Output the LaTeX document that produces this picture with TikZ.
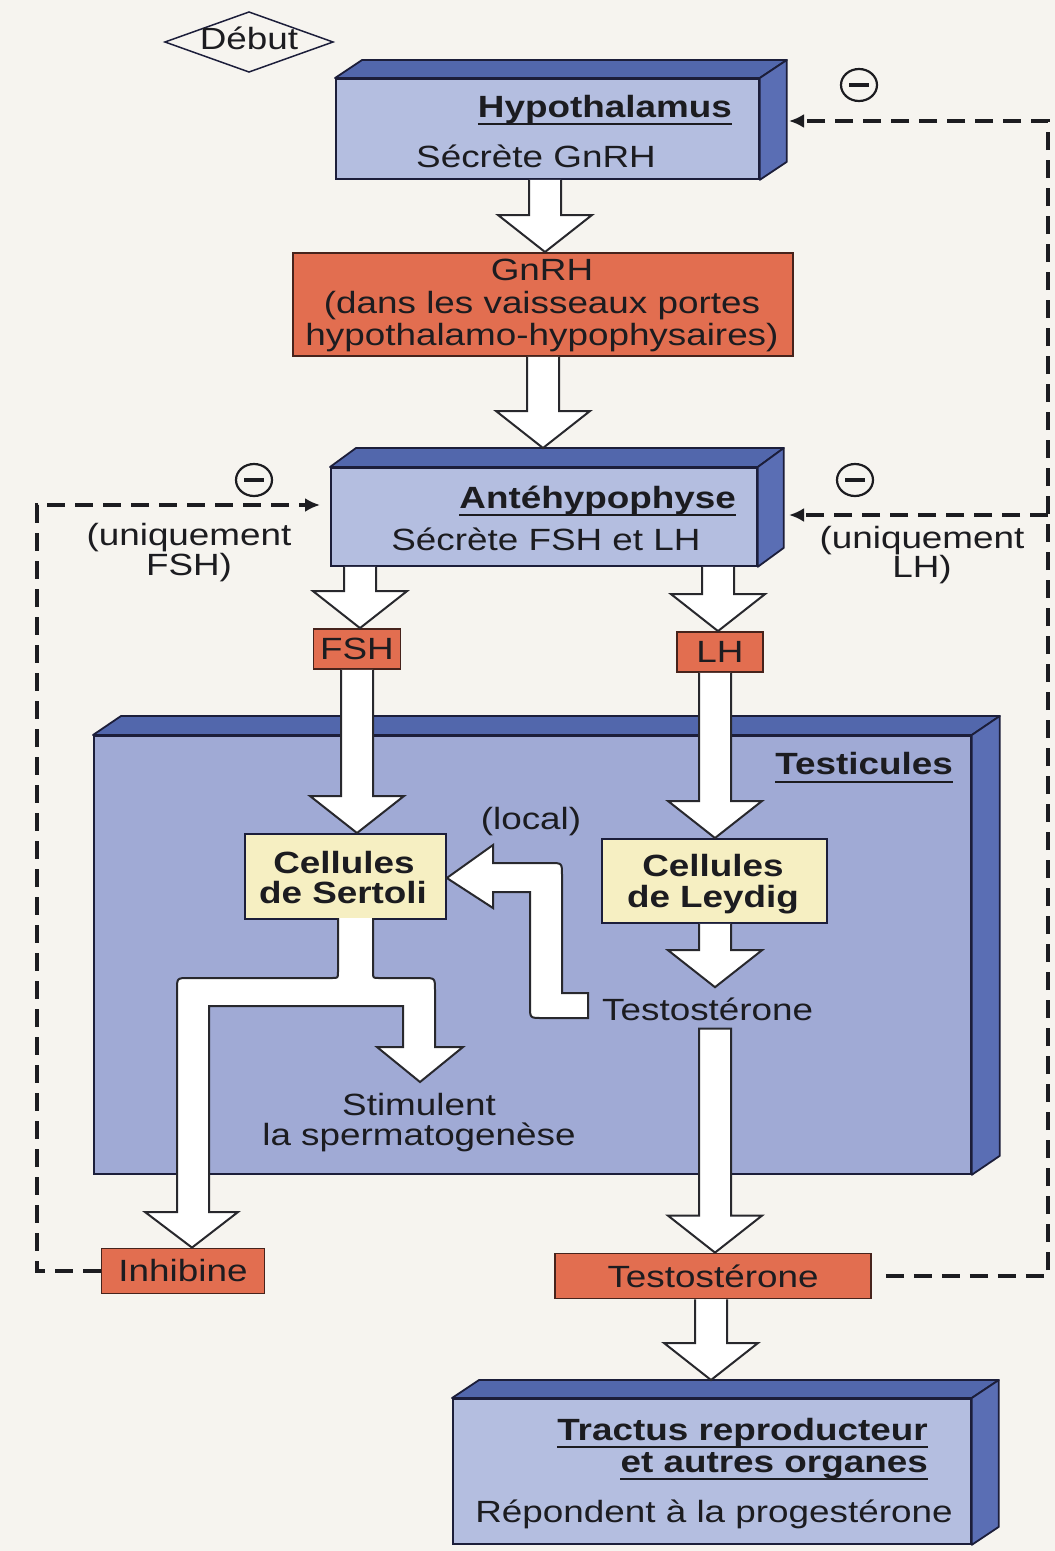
\documentclass[tikz,border=0pt]{standalone}
\usepackage{fontspec}
\setmainfont{Liberation Sans}[FakeStretch=1.2]
\usetikzlibrary{arrows.meta,calc,shapes.geometric}
\definecolor{bgc}{RGB}{246,244,239}
\definecolor{frontblue}{RGB}{180,190,224}
\definecolor{testblue}{RGB}{160,170,213}
\definecolor{topblue}{RGB}{82,103,172}
\definecolor{sideblue}{RGB}{90,110,180}
\definecolor{edgec}{RGB}{28,30,58}
\definecolor{orangec}{RGB}{226,110,80}
\definecolor{orangeedge}{RGB}{70,35,28}
\definecolor{yellowc}{RGB}{246,239,194}
\definecolor{ink}{RGB}{28,28,32}
\definecolor{arrowedge}{RGB}{40,40,45}
\newcommand\blockarrow[4][]{%
  \path[barrow] let \p1=(#3), \p2=(#4) in
   ({#2pt-16pt},\y1) -- ({#2pt-16pt},{\y2+37pt}) -- ({#2pt-47pt},{\y2+37pt}) -- (#2pt,\y2) -- ({#2pt+47pt},{\y2+37pt}) -- ({#2pt+16pt},{\y2+37pt}) -- ({#2pt+16pt},\y1) #1;}
\newcommand\boxfaces[3]{%
  \filldraw[face, fill=topblue] (#1.north west) -- ++(#2,-#3) -- ([shift={(#2,-#3)}]#1.north east) -- (#1.north east) -- cycle;
  \filldraw[face, fill=sideblue] (#1.north east) -- ++(#2,-#3) -- ([shift={(#2,-#3)}]#1.south east) -- (#1.south east) -- cycle;}
\begin{document}
\begin{tikzpicture}[x=1pt,y=-1pt,
  txt/.style={font=\fontsize{30.7}{32}\selectfont, text=ink, inner sep=0pt},
  btxt/.style={font=\fontsize{30.7}{32}\selectfont\bfseries, text=ink, inner sep=0pt},
  front/.style={draw=edgec, line width=1.8pt, fill=frontblue, inner sep=0pt, anchor=north west},
  face/.style={draw=edgec, line width=1.8pt, line join=round},
  orangebox/.style={draw=orangeedge, line width=1.8pt, fill=orangec, inner sep=0pt, font=\fontsize{30.7}{32}\selectfont, text=ink},
  yellowbox/.style={draw=edgec, line width=1.8pt, fill=yellowc, inner sep=0pt, anchor=north west},
  barrow/.style={draw=arrowedge, fill=white, line width=2pt, line join=miter},
  uline/.style={draw=ink, line width=2.5pt},
  fb/.style={draw=ink, line width=4.5pt, dash pattern=on 18pt off 10pt, -{Latex[length=15pt,width=14pt]}},
  minus/.style={ellipse, draw=ink, line width=2.2pt, minimum width=36pt, minimum height=32pt, inner sep=0pt,
    path picture={\draw[line width=4pt, ink] ([xshift=-10pt]path picture bounding box.center) -- ([xshift=10pt]path picture bounding box.center);}}
]
\useasboundingbox (0,0) rectangle (1055,1551);
\fill[bgc] (0,0) rectangle (1055,1551);

% Debut
\coordinate (dc) at (249,42);
\draw[line width=1.5pt, edgec] ($(dc)+(-84,0)$) -- ($(dc)+(0,-30)$) -- ($(dc)+(84,0)$) -- ($(dc)+(0,30)$) -- cycle;
\node[txt, anchor=base] (debut) at (249,49) {Début};

% Hypothalamus
\node[front, minimum width=423pt, minimum height=100pt] (hyp) at (335,78) {};
\boxfaces{hyp}{27}{18}
\node[btxt, anchor=base east] (hypt) at (732,117) {Hypothalamus};
\draw[uline] ([yshift=-7pt]hypt.base west) -- ([yshift=-7pt]hypt.base east);
\node[txt, anchor=base] (hyps) at (536,167) {Sécrète GnRH};

% GnRH
\node[orangebox, minimum width=500pt, minimum height=103pt, anchor=north west] (gnrh) at (292,252) {};
\node[txt, anchor=base] (g1) at (542,280) {GnRH};
\node[txt, anchor=base] (g2) at (542,313) {(dans les vaisseaux portes};
\node[txt, anchor=base] (g3) at (542,345) {hypothalamo-hypophysaires)};

% Antehypophyse
\node[front, minimum width=426pt, minimum height=98pt] (ante) at (330,467) {};
\boxfaces{ante}{26}{19}
\coordinate (antetop) at (543,448);
\node[btxt, anchor=base east] (antet) at (736,508) {Antéhypophyse};
\draw[uline] ([yshift=-7pt]antet.base west) -- ([yshift=-7pt]antet.base east);
\node[txt, anchor=base] (antes) at (546,550) {Sécrète FSH et LH};

% FSH / LH
\node[orangebox, minimum width=87pt, minimum height=40pt] (fsh) at (357,649) {FSH};
\node[orangebox, minimum width=86pt, minimum height=40pt] (lh) at (720,652) {LH};

% Testicules
\node[front, fill=testblue, minimum width=877pt, minimum height=438pt] (testi) at (93,735) {};
\boxfaces{testi}{28}{19}
\node[btxt, anchor=base east] (testit) at (953,774) {Testicules};
\draw[uline] ([yshift=-8pt]testit.base west) -- ([yshift=-8pt]testit.base east);

% Sertoli / Leydig
\node[yellowbox, minimum width=201pt, minimum height=85pt] (sert) at (244,833) {};
\node[btxt, anchor=base] (s1) at (344,873) {Cellules};
\node[btxt, anchor=base] (s2) at (343,903) {de Sertoli};
\node[yellowbox, minimum width=225pt, minimum height=84pt] (leyd) at (601,838) {};
\node[btxt, anchor=base] (l1) at (713,876) {Cellules};
\node[btxt, anchor=base] (l2) at (713,907) {de Leydig};

\node[txt, anchor=base] (local) at (531,829) {(local)};
\node[txt, anchor=base west] (testin) at (602,1020) {Testostérone};
\node[txt, anchor=base] (stim1) at (419,1115) {Stimulent};
\node[txt, anchor=base] (stim2) at (419,1145) {la spermatogenèse};

% bottom hormone boxes
\node[orangebox, minimum width=163pt, minimum height=45pt] (inhib) at (183,1271) {Inhibine};
\node[orangebox, minimum width=316pt, minimum height=45pt] (testo) at (713,1276) {Testostérone};

% Tractus
\node[front, minimum width=518pt, minimum height=145pt] (tract) at (452,1398) {};
\boxfaces{tract}{27}{18}
\coordinate (tractop) at (711,1380);
\node[btxt, anchor=base east] (tr1) at (928,1440) {Tractus reproducteur};
\draw[uline] ([yshift=-7pt]tr1.base west) -- ([yshift=-7pt]tr1.base east);
\node[btxt, anchor=base east] (tr2) at (928,1472) {et autres organes};
\draw[uline] ([yshift=-7pt]tr2.base west) -- ([yshift=-7pt]tr2.base east);
\node[txt, anchor=base] (tr3) at (714,1522) {Répondent à la progestérone};

% block arrows
\blockarrow{545}{hyp.south}{gnrh.north}
\blockarrow{543}{gnrh.south}{antetop}
\blockarrow{360}{ante.south}{fsh.north}
\blockarrow{718}{ante.south}{lh.north}
\blockarrow{357}{fsh.south}{sert.north}
\blockarrow{715}{lh.south}{leyd.north}
\blockarrow{715}{leyd.south}{[yshift=10pt]testin.north}
\blockarrow[-- cycle]{715}{[yshift=-8pt]testin.south}{testo.north}
\blockarrow{711}{testo.south}{tractop}

% local arrow (testosterone -> Sertoli)
\path[barrow] (588,993) -- (562,993) -- (562,875) .. controls (562,863) .. (550,863) -- (493,863) -- (493,845) -- (sert.east |- 0,878) -- (493,908) -- (493,892) -- (530,892) -- (530,1006) .. controls (530,1018) .. (542,1018) -- (588,1018) -- cycle;

% Sertoli branching arrow
\path[barrow] (338,918) -- (338,972) .. controls (338,978) .. (332,978) -- (189,978) .. controls (177,978) .. (177,990) -- (177,1212) -- (145,1212) -- (inhib.north -| 192,0) -- (238,1212) -- (209,1212) -- (209,1006) -- (403,1006) -- (403,1047) -- (377,1047) -- (420,1082) -- (463,1047) -- (435,1047) -- (435,990) .. controls (435,978) .. (423,978) -- (379,978) .. controls (373,978) .. (373,972) -- (373,918);

% feedback
\coordinate (hypr) at (789,121);
\coordinate (anter) at (789,515);
\coordinate (antel) at (320,505);
\coordinate (rline) at (1048,515);
\draw[fb, shorten <=14pt] (testo.east) -| (1048,121) -- (hypr);
\draw[fb] (rline) -- (anter);
\draw[fb] (inhib.west) -| (37,505) -- (antel);

\node[minus] (m1) at (859,85) {};
\node[minus] (m2) at (254,480) {};
\node[minus] (m3) at (855,480) {};

\node[txt, anchor=base] (uf1) at (189,545) {(uniquement};
\node[txt, anchor=base] (uf2) at (189,575) {FSH)};
\node[txt, anchor=base] (ul1) at (922,548) {(uniquement};
\node[txt, anchor=base] (ul2) at (922,577) {LH)};
\end{tikzpicture}
\end{document}
